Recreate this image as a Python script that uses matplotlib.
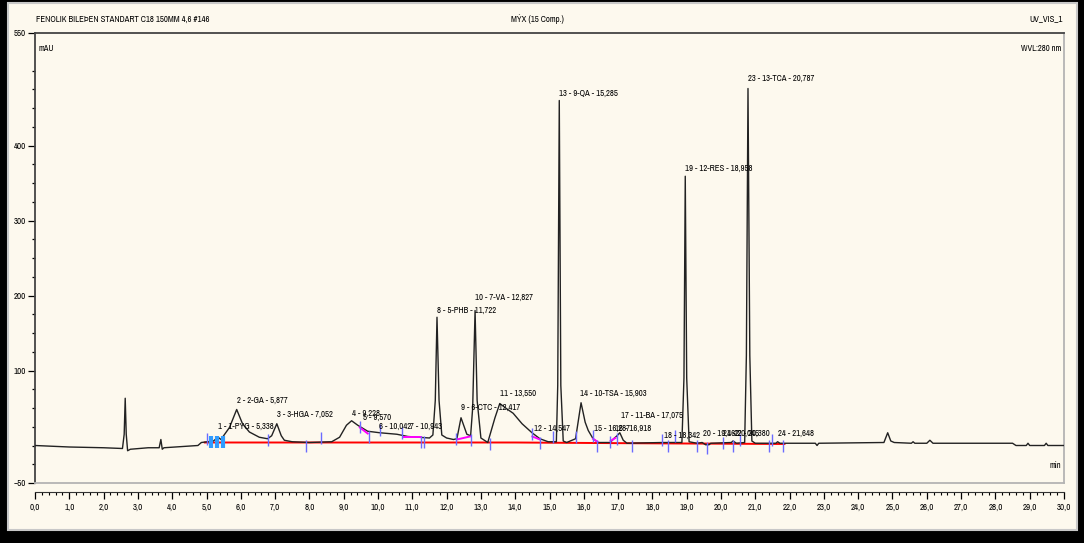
import matplotlib.pyplot as plt
from matplotlib import font_manager
from matplotlib.patches import Rectangle
from matplotlib.ticker import FixedLocator, MultipleLocator

W, H, DPI = 1084, 543, 100

# a narrow sans like the one the chromatography software uses
installed = {f.name for f in font_manager.fontManager.ttflist}
narrow = [n for n in ["Liberation Sans Narrow", "Arial Narrow", "Archivo Narrow",
                      "PT Sans Narrow", "Roboto Condensed", "Open Sans Condensed",
                      "IBM Plex Sans Condensed", "Fira Sans Condensed",
                      "Encode Sans Condensed", "Asap Condensed"] if n in installed]
plt.rcParams["font.family"] = narrow[:1] + ["Liberation Sans", "DejaVu Sans"]

# chromatogram trace: time (min) / signal (mAU)
trace_t = [0.00, 1.00, 2.00, 2.55, 2.60, 2.63, 2.66, 2.70, 2.78, 3.30, 3.62, 3.67, 3.71,
           3.76, 4.40, 4.75, 4.85, 5.20, 5.34, 5.42, 5.67, 5.88, 6.05, 6.25, 6.54, 6.78,
           6.90, 7.05, 7.18, 7.27, 7.50, 8.00, 8.65, 8.88, 9.08, 9.23, 9.41, 9.70, 10.05,
           10.55, 10.87, 11.50, 11.60, 11.67, 11.72, 11.78, 11.86, 12.00, 12.20, 12.30,
           12.42, 12.59, 12.70, 12.76, 12.83, 12.89, 13.00, 13.20, 13.41, 13.55, 13.75,
           13.94, 14.20, 14.49, 14.72, 14.96, 15.20, 15.24, 15.285, 15.33, 15.40, 15.50,
           15.76, 15.84, 15.92, 16.04, 16.13, 16.27, 16.42, 16.77, 16.87, 16.97, 17.05,
           17.15, 17.26, 18.30, 18.86, 18.92, 18.958, 19.00, 19.07, 19.30, 19.45, 19.55,
           19.65, 19.70, 20.30, 20.35, 20.45, 20.69, 20.74, 20.787, 20.84, 20.90, 21.00,
           21.60, 21.65, 21.72, 22.75, 22.80, 22.85, 24.75, 24.86, 24.95, 25.05, 25.55,
           25.60, 25.65, 26.00, 26.09, 26.18, 28.50, 28.60, 28.90, 28.95, 29.00, 29.43,
           29.48, 29.53, 30.00]
trace_v = [0, -2, -3, -4, 15, 63, 15, -7, -5, -3, -3, 8, -5,
           -3, -1, 0, 4, 6, 11, 8, 24, 48, 29, 18, 11, 9,
           13, 29, 13, 7, 5, 4, 5, 11, 27, 33, 27, 19, 17,
           15, 12, 10, 14, 60, 171, 60, 14, 10, 8, 9,
           37, 15, 13, 50, 180, 60, 10, 4, 37, 56, 49,
           43, 29, 17, 9, 5, 5, 80, 460, 80, 6, 4,
           9, 33, 57, 31, 20, 9, 4, 4, 9, 13, 17,
           7, 3, 4, 4, 90, 359, 90, 5, 3, 4, 1,
           1, 3, 4, 6, 3, 4, 120, 476, 120, 6, 3,
           3, 5, 3, 3, 0, 3, 4, 17, 6, 4, 3,
           5, 3, 3, 7, 3, 3, 0, 0, 3, 0, 0,
           3, 0, 0]

# peak table
peak_name = ["1-PYG", "2-GA", "3-HGA", "", "", "", "", "5-PHB", "6-CTC", "7-VA", "", "",
             "9-QA", "10-TSA", "", "", "11-BA", "", "12-RES", "", "", "", "13-TCA", ""]
peak_rt = [5.338, 5.877, 7.052, 9.228, 9.570, 10.042, 10.943, 11.722, 12.417, 12.827,
           13.550, 14.547, 15.285, 15.903, 16.287, 16.918, 17.075, 18.342, 18.958,
           19.462, 20.045, 20.380, 20.787, 21.648]
label_v = [25, 60, 41, 43, 38, 25, 25, 180, 51, 197, 69, 23, 469, 69, 23, 23, 40, 13,
           369, 16, 16, 16, 489, 16]

# integration marks
red_t = [4.95, 8.0, 14.0, 17.5, 21.85]
red_v = [4, 4, 4, 3, 2]
mag_t0 = [9.47, 10.72, 12.30, 14.50, 16.27, 16.78]
mag_v0 = [24, 11, 8, 12, 9, 6]
mag_t1 = [9.70, 11.25, 12.68, 14.72, 16.40, 16.92]
mag_v1 = [16, 11, 12, 8, 5, 10]
marker_t = [5.00, 6.78, 7.89, 8.33, 9.47, 9.73, 10.05, 10.69, 11.25, 11.33, 12.27, 12.71,
            13.26, 14.49, 14.72, 15.10, 15.78, 16.27, 16.39, 16.77, 16.97, 17.41, 18.29,
            18.46, 18.67, 19.31, 19.60, 20.07, 20.36, 20.54, 21.39, 21.50, 21.82]
marker_v = [9, 7, -1, 10, 25, 11, 21, 17, 5, 5, 9, 7,
            2, 16, 4, 12, 11, 13, 0, 5, 9, -1, 8,
            0, 13, -1, -3, 3, -1, 7, -1, 8, -1]
cyan_t = [5.14, 5.32, 5.49]
cyan_v = [5, 5, 5]

ytick_major = [-50, 100, 200, 300, 400, 550]
ytick_minor = [-25, 0, 25, 50, 75, 125, 150, 175, 225, 250, 275, 325, 350, 375, 425,
               450, 475, 500]
xtick_labels = [f"{i},0" for i in range(31)]

cream = "#fdf9ee"


def fx(px):
    return px / W


def fy(py):
    return 1 - py / H


fig = plt.figure(figsize=(W / DPI, H / DPI), dpi=DPI, facecolor="black")
renderer = fig.canvas.get_renderer()


def fit_size(sample, width_px):
    # font size at which `sample` is as wide as in the screenshot
    t = fig.text(0, 0, sample, fontsize=10)
    w = t.get_window_extent(renderer=renderer).width
    t.remove()
    return 10 * width_px / w


fs_peak = fit_size("14 - 10-TSA - 15,903", 66)
fs_tick = fit_size("400", 12)
fs_head = fit_size("FENOLIK BILEÞEN STANDART C18 150MM 4,6 #146", 172)
fs_unit = fit_size("WVL:280 nm", 40)

fig.patches.append(Rectangle((fx(8), fy(530)), fx(1077) - fx(8), fy(3) - fy(530),
                             transform=fig.transFigure, facecolor=cream,
                             edgecolor="#c8c8c8", lw=1.5, zorder=-10))

ax = fig.add_axes([fx(35), fy(483), fx(1064) - fx(35), fy(33) - fy(483)])
ax.set_facecolor(cream)
ax.set_xlim(0, 30)
ax.set_ylim(-50, 550)
for s in ["left", "top"]:
    ax.spines[s].set_color("#444444")
    ax.spines[s].set_linewidth(1.3)
for s in ["right", "bottom"]:
    ax.spines[s].set_color("#b4b4b4")
    ax.spines[s].set_linewidth(1.3)
ax.set_xticks([])
ax.set_yticks(ytick_major)
ax.yaxis.set_minor_locator(FixedLocator(ytick_minor))
ax.tick_params(axis="y", which="major", length=5, width=0.9, labelsize=fs_tick, pad=1.5)
ax.tick_params(axis="y", which="minor", length=2, width=0.9)

ax.plot(red_t, red_v, color="red", lw=1.4, zorder=2)
ax.plot(trace_t, trace_v, color="#222222", lw=1.0, zorder=3)
for t0, v0, t1, v1 in zip(mag_t0, mag_v0, mag_t1, mag_v1):
    ax.plot([t0, t1], [v0, v1], color="#ff00ff", lw=1.4, zorder=4)
ax.vlines(marker_t, [v - 8 for v in marker_v], [v + 8 for v in marker_v],
          color="#6b6bff", lw=1, zorder=5)
ax.vlines(cyan_t, [v - 8 for v in cyan_v], [v + 8 for v in cyan_v],
          color="#2f9bff", lw=3, zorder=5)

for i, (name, rt, lv) in enumerate(zip(peak_name, peak_rt, label_v)):
    rt_txt = f"{rt:.3f}".replace(".", ",")
    txt = f"{i + 1} - {name} - {rt_txt}" if name else f"{i + 1} - {rt_txt}"
    ax.text(rt, lv, txt, ha="left", va="center", fontsize=fs_peak, zorder=6,
            clip_on=False)

ax.text(0.003, 0.965, "mAU", transform=ax.transAxes, fontsize=fs_unit, va="center")
ax.text(0.997, 0.965, "WVL:280 nm", transform=ax.transAxes, fontsize=fs_unit,
        va="center", ha="right")
ax.text(0.997, 0.04, "min", transform=ax.transAxes, fontsize=fs_unit,
        va="center", ha="right")

# separate time axis below the plot box
ax2 = fig.add_axes([fx(35), fy(492), fx(1064) - fx(35), 0.0001])
ax2.set_facecolor("none")
for s in ["left", "top", "right"]:
    ax2.spines[s].set_visible(False)
ax2.spines["bottom"].set_color("#333333")
ax2.set_xlim(0, 30)
ax2.set_yticks([])
ax2.set_xticks(range(31))
ax2.set_xticklabels(xtick_labels)
ax2.xaxis.set_minor_locator(MultipleLocator(0.2))
ax2.tick_params(axis="x", which="major", length=5, width=0.9, labelsize=fs_tick, pad=2.5)
ax2.tick_params(axis="x", which="minor", length=2, width=0.8)

fig.text(fx(36), fy(19), "FENOLIK BILEÞEN STANDART C18 150MM 4,6 #146", fontsize=fs_head,
         va="center")
fig.text(fx(537), fy(19), "MÝX (15 Comp.)", fontsize=fs_head, va="center", ha="center")
fig.text(fx(1063), fy(19), "UV_VIS_1", fontsize=fs_head, va="center", ha="right")

fig.savefig("out.png", dpi=DPI, facecolor=fig.get_facecolor())
